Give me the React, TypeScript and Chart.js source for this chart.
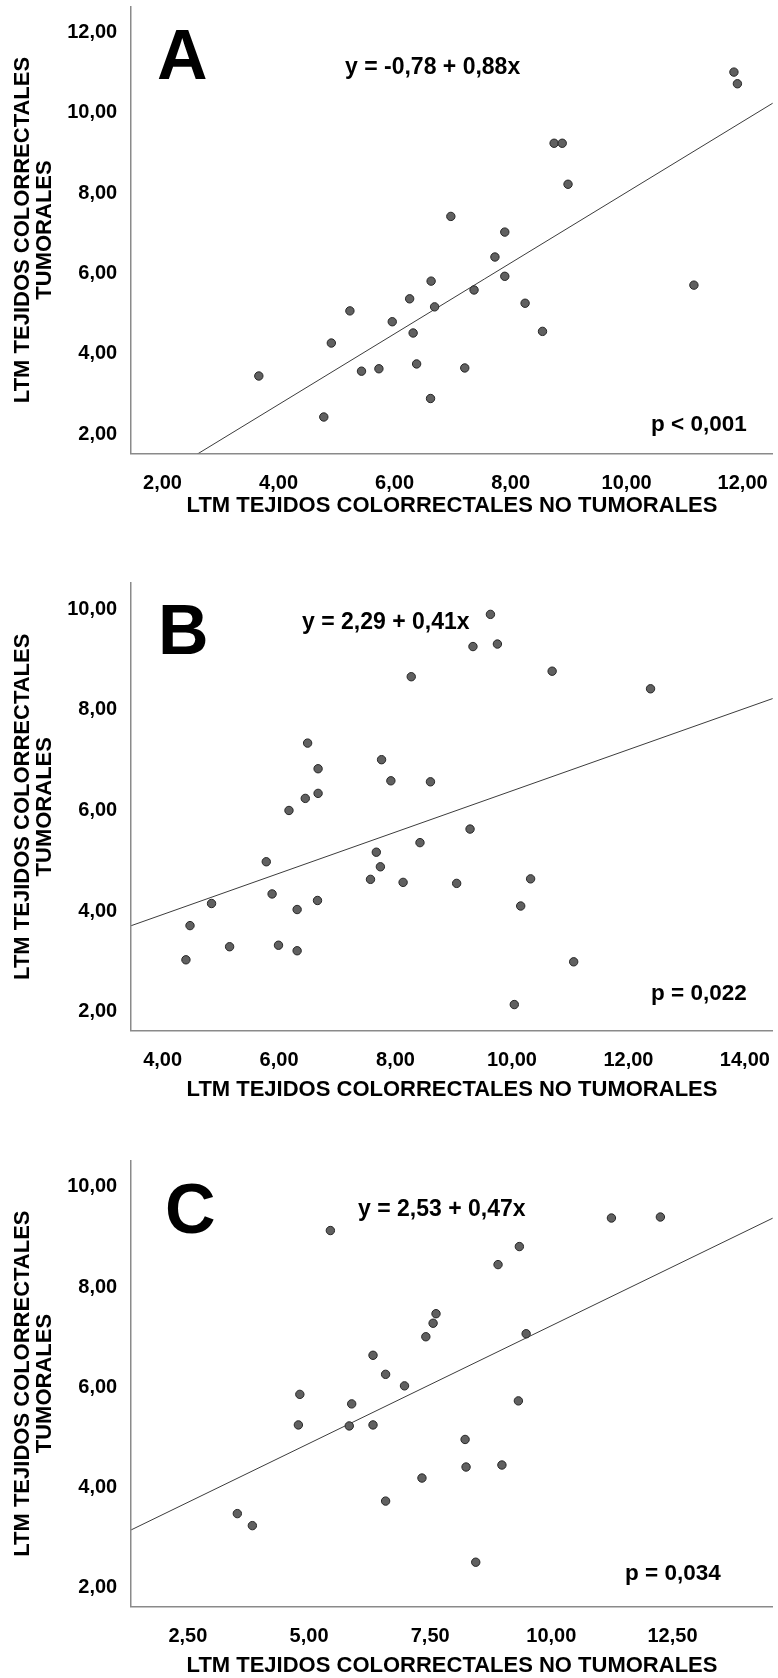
import React, { useEffect, useRef } from "react";
import { Chart, registerables } from "chart.js";

Chart.register(...registerables);

const FONT = "'Liberation Sans', Arial, Helvetica, sans-serif";

// ---- shared texts ----
const yTitleLines = ["LTM TEJIDOS COLORRECTALES", "TUMORALES"];
const xTitleText = "LTM TEJIDOS COLORRECTALES NO TUMORALES";

const panelLetters = ["A", "B", "C"];
const equations = ["y = -0,78 + 0,88x", "y = 2,29 + 0,41x", "y = 2,53 + 0,47x"];
const pValues = ["p < 0,001", "p = 0,022", "p = 0,034"];
const intercepts = [-0.78, 2.29, 2.53];
const slopes = [0.88, 0.41, 0.47];

// ---- panel A ----
const aX = [3.66, 4.78, 4.91, 5.23, 5.43, 5.73, 5.96, 6.26, 6.32, 6.38, 6.62, 6.63, 6.69, 6.97, 7.21, 7.37, 7.73, 7.9, 7.9, 8.25, 8.55, 8.75, 8.89, 8.99, 11.16, 11.85, 11.91];
const aY = [3.45, 2.43, 4.27, 5.07, 3.57, 3.63, 4.8, 5.37, 4.52, 3.75, 2.89, 5.81, 5.17, 7.42, 3.65, 5.59, 6.41, 7.03, 5.93, 5.26, 4.56, 9.24, 9.24, 8.22, 5.71, 11.01, 10.72];
const aXTicks = [2, 4, 6, 8, 10, 12];
const aYTicks = [2, 4, 6, 8, 10, 12];
const aXRange = [1.46, 12.52];
const aYRange = [1.527, 12.637];

// ---- panel B ----
const bX = [4.4, 4.47, 4.84, 5.15, 5.78, 5.88, 5.99, 6.17, 6.31, 6.31, 6.45, 6.49, 6.66, 6.67, 6.67, 7.57, 7.67, 7.74, 7.76, 7.92, 8.13, 8.27, 8.42, 8.6, 9.05, 9.28, 9.33, 9.63, 9.75, 10.04, 10.15, 10.32, 10.69, 11.06, 12.38];
const bY = [3.03, 3.71, 4.15, 3.29, 4.98, 4.34, 3.32, 6.0, 4.03, 3.21, 6.24, 7.34, 4.21, 6.34, 6.83, 4.63, 5.17, 4.88, 7.01, 6.59, 4.57, 8.66, 5.36, 6.57, 4.55, 5.63, 9.26, 9.9, 9.31, 2.14, 4.1, 4.64, 8.77, 2.99, 8.42];
const bXTicks = [4, 6, 8, 10, 12, 14];
const bYTicks = [2, 4, 6, 8, 10];
const bXRange = [3.46, 14.48];
const bYRange = [1.628, 10.52];

// ---- panel C ----
const cX = [3.52, 3.83, 4.78, 4.81, 5.44, 5.83, 5.88, 6.32, 6.32, 6.58, 6.58, 6.97, 7.33, 7.41, 7.56, 7.62, 8.22, 8.24, 8.44, 8.9, 8.98, 9.32, 9.34, 9.48, 11.24, 12.25];
const cY = [3.48, 3.24, 5.25, 5.86, 9.13, 5.23, 5.67, 6.64, 5.25, 6.26, 3.73, 6.03, 4.19, 7.01, 7.28, 7.47, 4.96, 4.41, 2.51, 8.45, 4.45, 5.73, 8.81, 7.07, 9.38, 9.4];
const cXTicks = [2.5, 5, 7.5, 10, 12.5];
const cYTicks = [2, 4, 6, 8, 10];
const cXRange = [1.33, 14.57];
const cYRange = [1.63, 10.52];

const fmt = (v: number) => Number(v).toFixed(2).replace(".", ",");

type PanelProps = {
  idx: number;
  xs: number[];
  ys: number[];
  xTicks: number[];
  yTicks: number[];
  xRange: number[];
  yRange: number[];
  pageTop: number;
  height: number;
  plotTop: number;
  plotBottom: number;
  xTitleY: number;
  letterPos: number[];
  eqPos: number[];
  pPos: number[];
};

function Panel(props: PanelProps) {
  const ref = useRef<HTMLCanvasElement | null>(null);
  useEffect(() => {
    const canvas = ref.current;
    if (!canvas) return;
    const {
      idx, xs, ys, xTicks, yTicks, xRange, yRange, height, plotTop, plotBottom,
      xTitleY, letterPos, eqPos, pPos,
    } = props;
    const a = intercepts[idx];
    const b = slopes[idx];
    const annot = {
      id: "annot" + idx,
      afterDraw(chart: any) {
        const c = chart.ctx;
        c.save();
        c.fillStyle = "#000";
        c.textAlign = "left";
        c.textBaseline = "alphabetic";
        c.font = `bold 70px ${FONT}`;
        c.fillText(panelLetters[idx], letterPos[0], letterPos[1]);
        c.font = `bold 23px ${FONT}`;
        c.fillText(equations[idx], eqPos[0], eqPos[1]);
        c.font = `bold 22.5px ${FONT}`;
        c.fillText(pValues[idx], pPos[0], pPos[1]);
        c.restore();
      },
    };
    const chart = new Chart(canvas, {
      type: "scatter",
      data: {
        datasets: [
          {
            data: xs.map((x, i) => ({ x, y: ys[i] })),
            pointRadius: 4.2,
            pointBackgroundColor: "#606060",
            pointBorderColor: "#262626",
            pointBorderWidth: 1,
            showLine: false,
          } as any,
          {
            type: "line",
            data: [
              { x: xRange[0], y: a + b * xRange[0] },
              { x: xRange[1], y: a + b * xRange[1] },
            ],
            borderColor: "#3c3c3c",
            borderWidth: 1,
            pointRadius: 0,
            showLine: true,
            fill: false,
          } as any,
        ],
      },
      options: {
        responsive: false,
        animation: false,
        devicePixelRatio: 1,
        layout: { padding: { top: plotTop, left: 0, right: 0, bottom: 0 } },
        plugins: { legend: { display: false }, tooltip: { enabled: false } },
        scales: {
          x: {
            type: "linear",
            position: "bottom",
            min: xRange[0],
            max: xRange[1],
            grid: { display: false },
            border: { display: true, color: "#8a8a8a", width: 1.5 },
            ticks: {
              padding: 10,
              color: "#000",
              font: { family: FONT, size: 20, weight: "bold" },
              callback: (v: any) => fmt(v),
              maxRotation: 0,
            },
            afterBuildTicks: (axis: any) => {
              axis.ticks = xTicks.map((v) => ({ value: v }));
            },
            afterFit: (s: any) => {
              s.height = height - plotBottom;
              s.paddingLeft = 0;
              s.paddingRight = 0;
            },
            title: {
              display: true,
              text: xTitleText,
              color: "#000",
              font: { family: FONT, size: 22, weight: "bold", lineHeight: 1 },
              padding: { top: 0, bottom: height - xTitleY - 11 },
            },
          },
          y: {
            type: "linear",
            position: "left",
            min: yRange[0],
            max: yRange[1],
            grid: { display: false },
            border: { display: true, color: "#8a8a8a", width: 1.5 },
            ticks: {
              padding: 6,
              color: "#000",
              font: { family: FONT, size: 20, weight: "bold" },
              callback: (v: any) => fmt(v),
            },
            afterBuildTicks: (axis: any) => {
              axis.ticks = yTicks.map((v) => ({ value: v }));
            },
            afterFit: (s: any) => {
              s.width = 131.2;
              s.paddingTop = 0;
              s.paddingBottom = 0;
            },
            title: {
              display: true,
              text: yTitleLines,
              color: "#000",
              font: { family: FONT, size: 22, weight: "bold", lineHeight: 1 },
              padding: { top: 12.3, bottom: 0 },
            },
          },
        },
      } as any,
      plugins: [annot],
    });
    return () => chart.destroy();
  }, []);
  return (
    <canvas
      ref={ref}
      width={778}
      height={props.height}
      style={{
        position: "absolute",
        left: 0,
        top: props.pageTop,
        width: 778,
        height: props.height,
        display: "block",
      }}
    />
  );
}

export default function App() {
  return (
    <div
      style={{
        position: "absolute",
        left: 0,
        top: 0,
        width: 778,
        height: 1678,
        background: "#fff",
        overflow: "hidden",
      }}
    >
      <Panel
        idx={0}
        xs={aX}
        ys={aY}
        xTicks={aXTicks}
        yTicks={aYTicks}
        xRange={aXRange}
        yRange={aYRange}
        pageTop={0}
        height={560}
        plotTop={6.7}
        plotBottom={453.3}
        xTitleY={506}
        letterPos={[157, 79]}
        eqPos={[345, 74]}
        pPos={[651, 431]}
      />
      <Panel
        idx={1}
        xs={bX}
        ys={bY}
        xTicks={bXTicks}
        yTicks={bYTicks}
        xRange={bXRange}
        yRange={bYRange}
        pageTop={560}
        height={560}
        plotTop={23.2}
        plotBottom={470.3}
        xTitleY={530}
        letterPos={[158, 93.6]}
        eqPos={[302, 69]}
        pPos={[651, 440]}
      />
      <Panel
        idx={2}
        xs={cX}
        ys={cY}
        xTicks={cXTicks}
        yTicks={cYTicks}
        xRange={cXRange}
        yRange={cYRange}
        pageTop={1120}
        height={558}
        plotTop={40.9}
        plotBottom={486.3}
        xTitleY={546}
        letterPos={[165, 113]}
        eqPos={[358, 96]}
        pPos={[625, 460]}
      />
    </div>
  );
}
